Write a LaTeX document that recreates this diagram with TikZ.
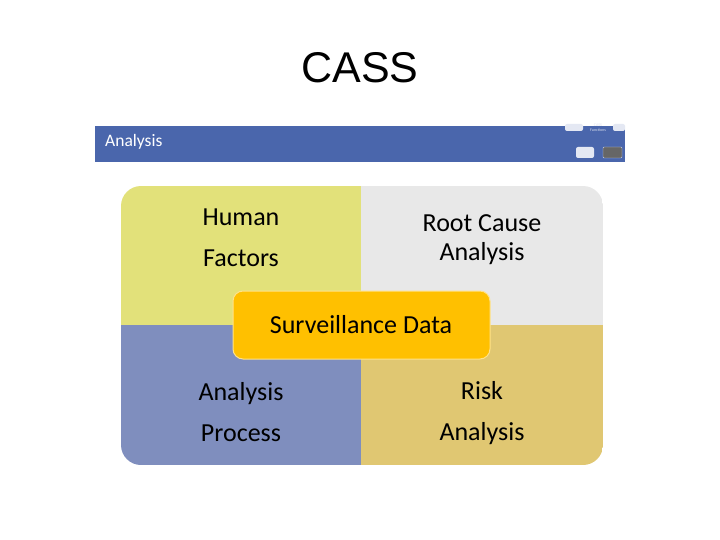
\documentclass[tikz,border=0pt]{standalone}
\usepackage{fontspec}
\setmainfont{Carlito}
\newfontfamily\arialf{Liberation Sans}
\definecolor{hdr}{HTML}{4A66AC}
\definecolor{qtl}{HTML}{E2E17A}
\definecolor{qtr}{HTML}{E8E8E8}
\definecolor{qbl}{HTML}{7F8EBE}
\definecolor{qbr}{HTML}{E0C772}
\definecolor{ctr}{HTML}{FFC000}
\definecolor{ctrb}{HTML}{FFE28A}
\tikzset{
  lbl/.style={font=\fontsize{26}{41}\selectfont, text=black, align=center, inner sep=0pt},
}
\begin{document}
\begin{tikzpicture}[x=1pt,y=-1pt]
\useasboundingbox (0,0) rectangle (720,540);
\fill[white] (0,0) rectangle (720,540);
\node[font=\arialf\fontsize{43}{48}\selectfont, inner sep=0pt] (title) at (360,68) {CASS};
% header bar
\fill[hdr] (95,126) rectangle (625,162);
\node[anchor=west, text=white, font=\fontsize{17.5}{20}\selectfont, inner sep=0pt] (hdrtxt) at (105,142) {Analysis};
\fill[white!85!hdr, rounded corners=2pt] (565,124) rectangle (583,131);
\fill[white!85!hdr, rounded corners=2pt] (613,124) rectangle (625,131);
\node[text=white!80!hdr, font=\fontsize{4}{5}\selectfont, align=center, inner sep=0pt] (fn) at (598,128) {CASS\\Functions};
\fill[white!85!hdr, rounded corners=2pt] (576,147) rectangle (594,158);
\fill[gray!80!black, draw=white!70!hdr, rounded corners=1pt] (603,147) rectangle (622,158);
% quadrants
\begin{scope}
\clip[rounded corners=20pt] (121,186) rectangle (603,465);
\fill[qtl] (121,186) rectangle (361,325);
\fill[qtr] (361,186) rectangle (603,325);
\fill[qbl] (121,325) rectangle (361,465);
\fill[qbr] (361,325) rectangle (603,465);
\end{scope}
\node[lbl] (hf) at (241,238) {Human\\Factors};
\node[lbl, font=\fontsize{26}{29}\selectfont] (rca) at (482,240) {Root Cause\\Analysis};
\node[lbl] (ap) at (241,412) {Analysis\\Process};
\node[lbl] (ra) at (482,413) {Risk\\Analysis};
% center
\draw[fill=ctr, draw=ctrb, line width=1pt, rounded corners=10pt] (233,291) rectangle (490,359);
\node[lbl] (sd) at (361,325) {Surveillance Data};
\end{tikzpicture}
\end{document}
